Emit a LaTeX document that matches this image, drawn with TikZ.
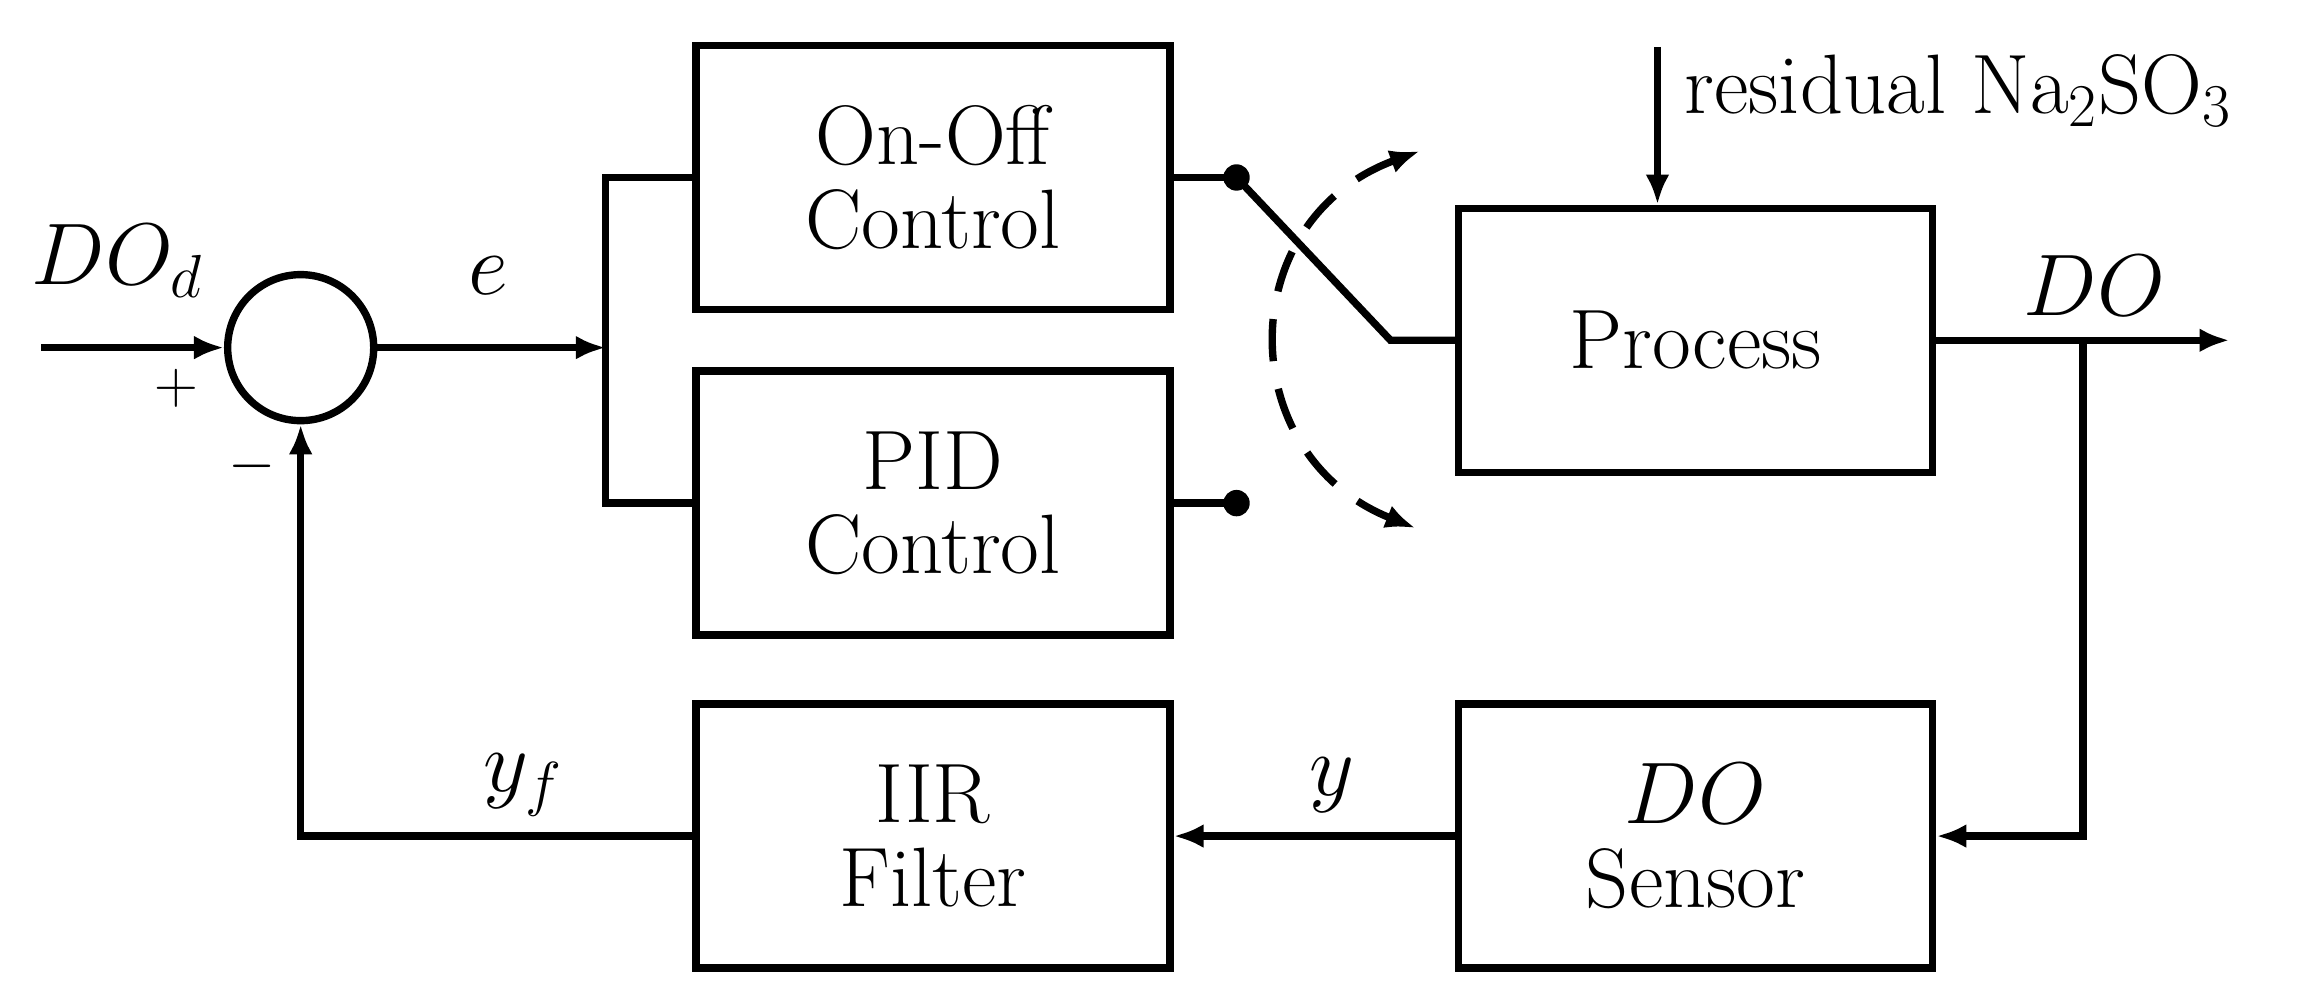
\documentclass[tikz,border=0pt]{standalone}
\usepackage{amsmath}
\usepackage{tikz}
\usetikzlibrary{arrows.meta}
\tikzset{
  blk/.style={draw, line width=2.1pt, minimum width=4.74cm, minimum height=2.64cm, align=center},
  sig/.style={line width=2.1pt, -{Latex[length=0.3cm,width=0.24cm]}},
  wire/.style={line width=2.1pt},
}
\begin{document}
\begin{tikzpicture}[x=0.01467cm,y=-0.01467cm,font=\fontsize{24}{24}\selectfont]
\useasboundingbox (0,0) rectangle (1566,673);
%BLOCKS
\node[draw, circle, line width=2.1pt, minimum size=1.46cm] (sum) at (205,237) {};
\node[blk] (onoff) at (636,121) {On-Off\\Control};
\node[blk] (pid) at (636,343) {PID\\Control};
\node[blk] (proc) at (1156,232) {Process};
\node[blk] (sens) at (1156,570) {$DO$\\Sensor};
\node[blk] (iir) at (636,570) {IIR\\Filter};
\coordinate (in) at (28,237);
\coordinate (split) at (413,237);
\coordinate (dA) at (843,121);
\coordinate (dB) at (843,343);
\coordinate (sw) at (948,232);
\coordinate (dist) at (1130,32);
\coordinate (out) at (1520,232);
\coordinate (tap) at (1420,232);
%FORWARD
\draw[sig] (in) -- (sum.west);
\draw[sig] (sum.east) -- (split);
\draw[wire] (onoff.west) -| (split) |- (pid.west);
\draw[wire] (onoff.east) -- (dA);
\draw[wire] (pid.east) -- (dB);
\fill (dA) circle (9);
\fill (dB) circle (9);
\draw[wire] (dA) -- (sw) -- (proc.west);
\draw[sig] (dist) -- (dist|-proc.north);
\draw[sig] (proc.east) -- (out);
%FEEDBACK
\draw[sig] (tap) |- (sens.east);
\draw[sig] (sens.west) -- (iir.east);
\draw[sig] (iir.west) -| (sum.south);
% switch
\draw[line width=2.1pt, dash pattern=on 12pt off 8pt, {Latex[length=0.3cm,width=0.24cm]}-{Latex[length=0.3cm,width=0.24cm]}]
  (968,103) .. controls (840,150) and (840,310) .. (965,360);
%LABELS
\node at (80,178) {$DO_d$};
\node[font=\fontsize{18}{20}\selectfont] at (120,265) {$+$};
\node[font=\fontsize{18}{20}\selectfont] at (172,318) {$-$};
\node at (333,188) {$e$};
\node at (1428,195) {$DO$};
\node[anchor=west] at (1140,62) {residual Na$_2$SO$_3$};
\node at (908,535) {$y$};
\node at (357,535) {$y_f$};
\end{tikzpicture}
\end{document}
